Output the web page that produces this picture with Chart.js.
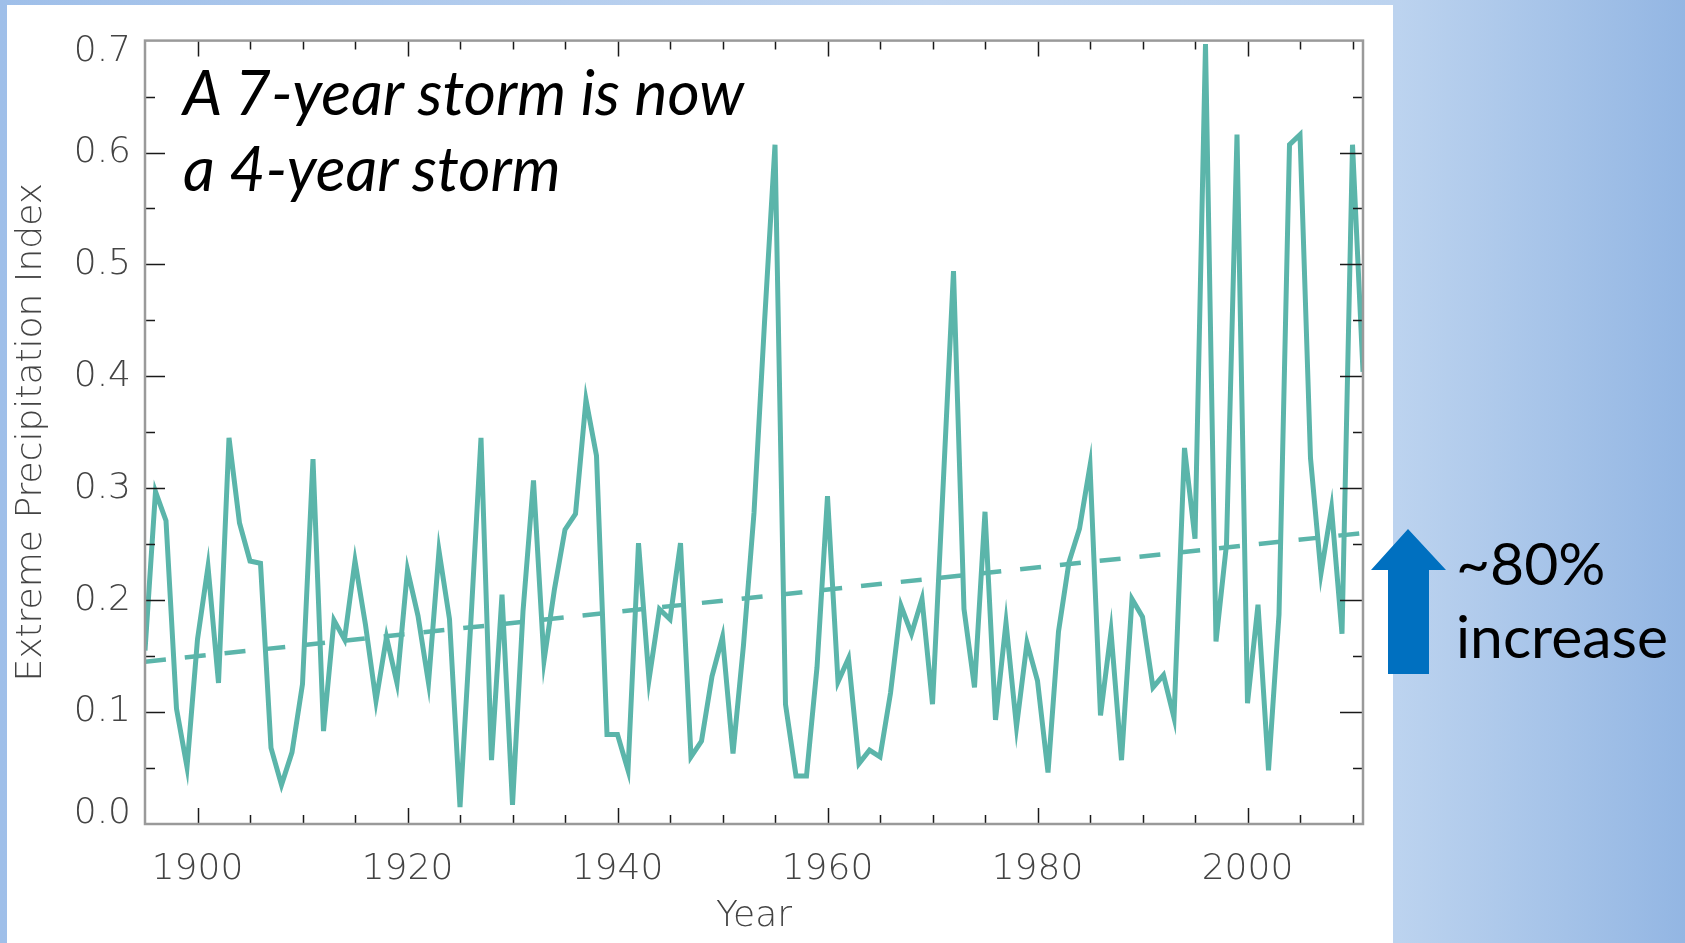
<!DOCTYPE html>
<html>
<head>
<meta charset="utf-8">
<title>Extreme Precipitation Index</title>
<script src="https://cdn.jsdelivr.net/npm/chart.js@4.4.1/dist/chart.umd.min.js"></script>
<style>
  html, body { margin: 0; padding: 0; }
  body {
    width: 1685px; height: 943px; overflow: hidden; position: relative;
    background: linear-gradient(to right, #9fbfe9 0%, #c3d7f1 55%, #bcd3ef 83%, #93b6e3 100%);
  }
  #panel { position: absolute; left: 7px; top: 5px; width: 1386px; height: 938px; background: #fff; }
  #overlay { position: absolute; left: 0; top: 0; pointer-events: none; }
  .note { font-family: Lato, 'Open Sans', sans-serif; font-style: italic; fill: #000; }
  .callout { font-family: Lato, 'Open Sans', sans-serif; fill: #000; }
</style>
</head>
<body>
<div id="panel"><canvas id="epi" width="1386" height="938"></canvas></div>

<svg id="overlay" width="1685" height="943">
  <text id="note1" class="note" x="183" y="115" font-size="58">A 7-year storm is now</text>
  <text id="note2" class="note" x="183" y="191" font-size="58">a 4-year storm</text>
  <polygon points="1408,529 1446,570 1429,570 1429,674 1388,674 1388,570 1371,570" fill="#0070c0"/>
  <text id="pct" class="callout" x="1456" y="585" font-size="60">~80%</text>
  <text id="inc" class="callout" x="1456" y="658" font-size="60">increase</text>
</svg>

<script>
// ── Data ─────────────────────────────────────────────────────
const startYear = 1895;
const epi = [
  0.155, 0.297, 0.271, 0.103, 0.051,                         // 1895-1899
  0.165, 0.230, 0.126, 0.345, 0.269, 0.235, 0.233, 0.068, 0.035, 0.064, // 1900s
  0.125, 0.326, 0.083, 0.182, 0.165, 0.235, 0.178, 0.110, 0.167, 0.126, // 1910s
  0.227, 0.186, 0.126, 0.244, 0.183, 0.015, 0.175, 0.345, 0.057, 0.205, // 1920s
  0.017, 0.190, 0.307, 0.146, 0.210, 0.263, 0.277, 0.379, 0.329, 0.080, // 1930s
  0.080, 0.048, 0.251, 0.129, 0.192, 0.183, 0.251, 0.060, 0.074, 0.132, // 1940s
  0.167, 0.063, 0.160, 0.278, 0.448, 0.607, 0.107, 0.043, 0.043, 0.140, // 1950s
  0.293, 0.127, 0.148, 0.054, 0.066, 0.060, 0.117, 0.195, 0.170, 0.201, // 1960s
  0.107, 0.300, 0.494, 0.192, 0.122, 0.279, 0.093, 0.180, 0.087, 0.162, // 1970s
  0.128, 0.046, 0.172, 0.234, 0.264, 0.320, 0.097, 0.172, 0.057, 0.201, // 1980s
  0.185, 0.122, 0.133, 0.095, 0.336, 0.255, 0.697, 0.163, 0.250, 0.616, // 1990s
  0.108, 0.196, 0.048, 0.187, 0.607, 0.616, 0.327, 0.224, 0.282, 0.170, // 2000s
  0.607, 0.404                                               // 2010-2011
];

// linear trend, drawn dashed
const trendYears  = [1895, 2011];
const trendValues = [0.145, 0.260];

const xTickYears  = [1900, 1920, 1940, 1960, 1980, 2000];
const yTickValues = [0.0, 0.1, 0.2, 0.3, 0.4, 0.5, 0.6, 0.7];

const TEAL = '#5bb5aa';
const LABEL = '#444';
const axisFont = { family: "'DejaVu Sans', sans-serif", size: 36, weight: '200' };
// end labels of the y axis sit pulled inside the box, as in the original plot
const endFont  = { ...axisFont, lineHeight: 0.6 };
const isEnd = v => v === yTickValues[0] || v === yTickValues[yTickValues.length - 1];

// ── IDL-style box frame with inward ticks ────────────────────
const frameTicks = {
  id: 'frameTicks',
  afterDraw(chart) {
    const { ctx, chartArea: a, scales: { x, y } } = chart;
    ctx.save();
    ctx.strokeStyle = '#1a1a1a';
    ctx.lineWidth = 1.5;
    ctx.beginPath();
    for (let yr = 1900; yr <= 2010; yr += 5) {
      const px = Math.round(x.getPixelForValue(yr)) + 0.5;
      const len = yr % 20 === 0 ? 16 : 9;
      ctx.moveTo(px, a.bottom); ctx.lineTo(px, a.bottom - len);
      ctx.moveTo(px, a.top);    ctx.lineTo(px, a.top + len);
    }
    for (let k = 1; k < 14; k++) {
      const py = Math.round(y.getPixelForValue(k * 0.05)) + 0.5;
      const major = k % 2 === 0;
      ctx.moveTo(a.left, py);  ctx.lineTo(a.left + (major ? 20 : 10), py);
      ctx.moveTo(a.right, py); ctx.lineTo(a.right - (major ? 23 : 10), py);
    }
    ctx.stroke();

    ctx.strokeStyle = '#9a9a9a';
    ctx.lineWidth = 2.5;
    ctx.strokeRect(a.left, a.top, a.width, a.height);
    ctx.restore();
  }
};

new Chart(document.getElementById('epi'), {
  type: 'line',
  data: {
    datasets: [
      {
        data: epi.map((v, i) => ({ x: startYear + i, y: v })),
        borderColor: TEAL,
        borderWidth: 5,
        pointRadius: 0,
        tension: 0,
        fill: false
      },
      {
        data: trendYears.map((yr, i) => ({ x: yr, y: trendValues[i] })),
        borderColor: TEAL,
        borderWidth: 4.5,
        borderDash: [21, 19],
        pointRadius: 0,
        fill: false
      }
    ]
  },
  options: {
    responsive: false,
    animation: false,
    devicePixelRatio: 1,
    layout: { padding: { top: 27, right: 30, left: 0, bottom: 0 } },
    plugins: { legend: { display: false }, tooltip: { enabled: false } },
    scales: {
      x: {
        type: 'linear', min: 1895, max: 2011,
        afterBuildTicks: s => { s.ticks = xTickYears.map(v => ({ value: v })); },
        afterFit: s => { s.height = 119; },
        grid: { display: false, drawTicks: false },
        border: { display: false },
        ticks: { font: axisFont, color: LABEL, padding: 24, maxRotation: 0, autoSkip: false,
                 callback: v => String(v) },
        title: { display: true, text: 'Year', font: axisFont, color: LABEL,
                 padding: { top: 0, bottom: 5 } }
      },
      y: {
        min: 0, max: 0.7,
        afterBuildTicks: s => { s.ticks = yTickValues.map(v => ({ value: v })); },
        afterFit: s => { s.width = 138; },
        grid: { display: false, drawTicks: false },
        border: { display: false },
        ticks: {
          color: LABEL, padding: 14,
          font: c => (c.tick && isEnd(c.tick.value)) ? endFont : axisFont,
          callback: v => {
            const s = Number(v).toFixed(1);
            if (v === yTickValues[0]) return [s, ''];
            if (v === yTickValues[yTickValues.length - 1]) return ['', s];
            return s;
          }
        },
        title: { display: true, text: 'Extreme Precipitation Index', font: axisFont, color: LABEL,
                 padding: { top: 3, bottom: 0 } }
      }
    }
  },
  plugins: [frameTicks]
});

// ── fit overlay text widths to the reference ─────────────────
function fitPair(refId, otherId, target) {
  const ref = document.getElementById(refId);
  const fs = parseFloat(ref.getAttribute('font-size'));
  const size = (fs * target / ref.getComputedTextLength()).toFixed(1);
  ref.setAttribute('font-size', size);
  document.getElementById(otherId).setAttribute('font-size', size);
}
document.fonts.ready.then(() => {
  fitPair('note1', 'note2', 561);
  fitPair('inc', 'pct', 212);
});
</script>
</body>
</html>
